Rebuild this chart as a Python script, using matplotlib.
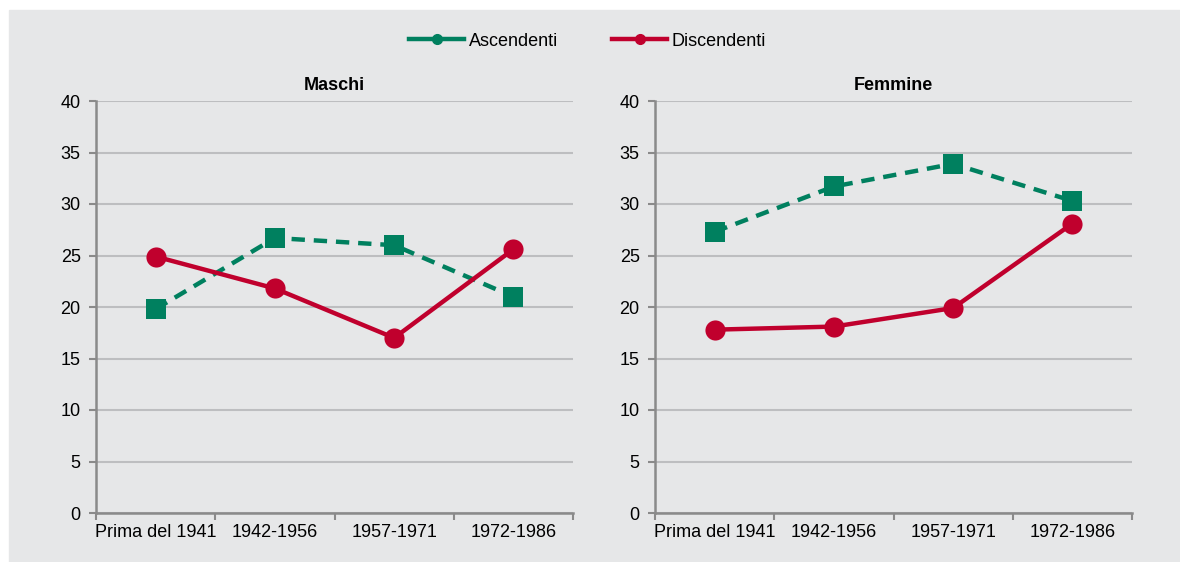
import numpy as np
import matplotlib.pyplot as plt
from matplotlib.lines import Line2D
from matplotlib.patches import Rectangle

plt.rcParams['font.family'] = ['Liberation Sans', 'DejaVu Sans']

# Data
categories = ["Prima del 1941", "1942-1956", "1957-1971", "1972-1986"]
maschi_asc = [19.8, 26.7, 26.0, 21.0]
maschi_disc = [24.9, 21.8, 17.0, 25.6]
femmine_asc = [27.3, 31.7, 33.9, 30.3]
femmine_disc = [17.8, 18.1, 19.9, 28.1]
panels = [("Maschi", maschi_asc, maschi_disc), ("Femmine", femmine_asc, femmine_disc)]

green = "#00805F"
red = "#C0002D"
bg = "#E6E7E8"
grid_c = "#BDBEC0"
axis_c = "#8A8A8A"

fig = plt.figure(figsize=(11.8, 5.62), dpi=100)
fig.patches.append(Rectangle((9 / 1180, 0), 1 - 9 / 1180, 1 - 10 / 562,
                             transform=fig.transFigure, color=bg, zorder=-10))

lefts = [96, 655]
width = 477
bottom_px, top_px = 513, 101
x = np.arange(len(categories))

for (title, asc, disc), left in zip(panels, lefts):
    ax = fig.add_axes([left / 1180, 1 - bottom_px / 562, width / 1180, (bottom_px - top_px) / 562])
    ax.set_facecolor("none")
    ax.plot(x, asc, color=green, lw=3.2, ls=(0, (3, 2)), marker="s", ms=15,
            markeredgewidth=0, zorder=3)
    ax.plot(x, disc, color=red, lw=3.2, marker="o", ms=14.5, markeredgewidth=0, zorder=4)
    ax.set_xlim(-0.5, len(categories) - 0.5)
    ax.set_ylim(0, 40)
    ax.set_yticks(np.arange(0, 41, 5))
    ax.yaxis.grid(True, color=grid_c, lw=1.5)
    ax.set_axisbelow(True)
    ax.set_xticks(x)
    ax.set_xticklabels(categories)
    ax.set_xticks(np.arange(-0.5, len(categories), 1), minor=True)
    ax.tick_params(axis="x", which="major", length=0, labelsize=13, pad=8, colors="black")
    ax.tick_params(axis="x", which="minor", length=5, width=1.5, color=axis_c)
    ax.tick_params(axis="y", length=5, width=1.5, color=axis_c, labelsize=13, pad=6)
    for s in ["top", "right"]:
        ax.spines[s].set_visible(False)
    for s in ["left", "bottom"]:
        ax.spines[s].set_color(axis_c)
        ax.spines[s].set_linewidth(1.8)
    ax.set_title(title, fontsize=13, fontweight="bold", pad=8)

handles = [Line2D([], [], color=green, lw=3.2, marker="o", ms=7),
           Line2D([], [], color=red, lw=3.2, marker="o", ms=7)]
fig.legend(handles, ["Ascendenti", "Discendenti"], loc="center", ncol=2,
           bbox_to_anchor=(0.498, 1 - 41 / 562), frameon=False, fontsize=13,
           numpoints=1, handlelength=3.05, handletextpad=0.25, columnspacing=3.0)

fig.savefig("out.png", dpi=100, facecolor="white")
